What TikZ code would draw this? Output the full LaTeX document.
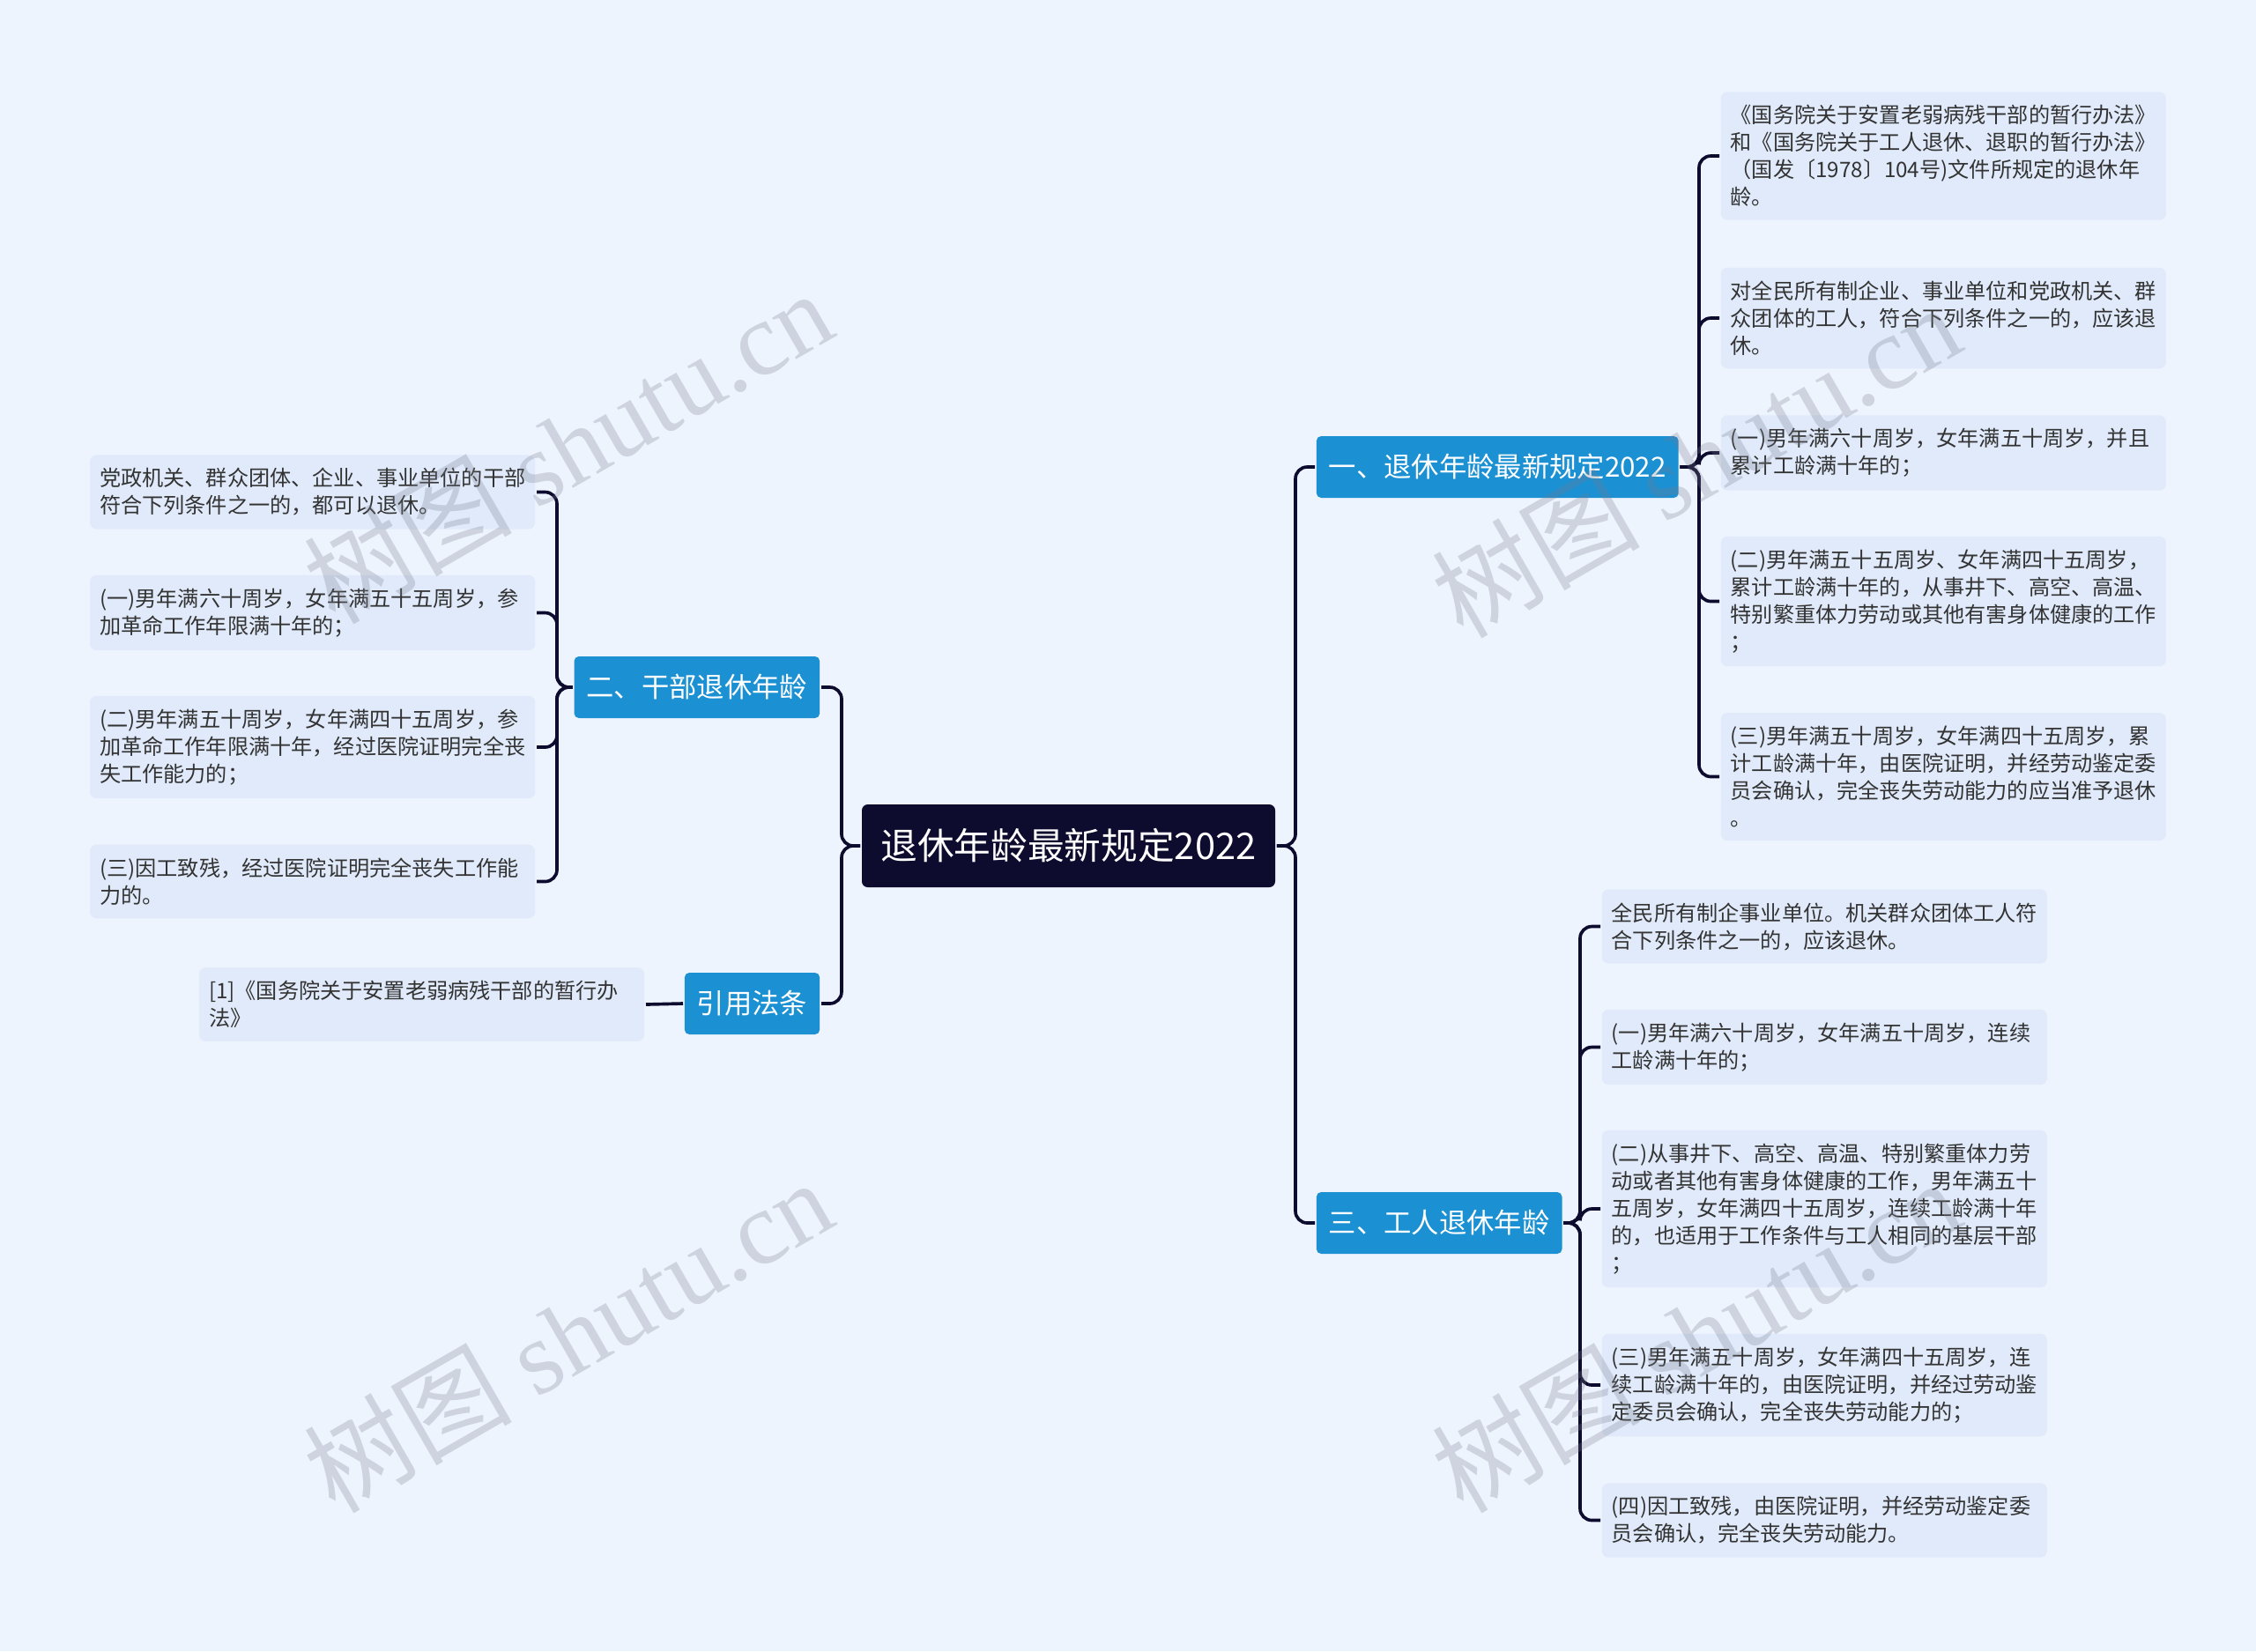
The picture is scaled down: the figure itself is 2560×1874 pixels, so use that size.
\documentclass[tikz,border=0pt]{standalone}
\usepackage{fontspec}
\setmainfont{Noto Sans CJK SC}
\newfontfamily\wmlatin{Liberation Serif}

\definecolor{bgc}{RGB}{238,244,254}
\definecolor{rootc}{RGB}{13,11,46}
\definecolor{topicc}{RGB}{27,144,210}
\definecolor{leafc}{RGB}{224,234,250}
\definecolor{leaftext}{RGB}{51,51,51}
\definecolor{linkc}{RGB}{13,11,46}
\definecolor{wmc}{RGB}{120,125,140}

\tikzset{every picture/.style={line width=1.1pt}}
\tikzset{
  rootbox/.style={fill=rootc, text=white, rounded corners=2pt, minimum width=140.7pt, minimum height=28.2pt, font=\fontsize{12.5}{15}\selectfont},
  topic/.style={fill=topicc, text=white, rounded corners=1.6pt, minimum height=21pt, inner xsep=4.2pt, font=\fontsize{9.4}{11}\selectfont},
  leafbox/.style={fill=leafc, text=leaftext, rounded corners=2.2pt, align=left, text width=145pt, inner xsep=3.25pt, inner ysep=4.5pt, font=\fontsize{7.25}{9.3}\selectfont},
  link/.style={draw=linkc, line width=1.1pt, rounded corners=4pt},
  wmtext/.style={text=wmc, text opacity=0.27, rotate=30, font=\fontsize{35.5}{40}\selectfont}
}

\begin{document}
\begin{tikzpicture}[x=0.3pt,y=0.3pt,yscale=-1,xscale=1]
%set diagram to the full sheet
\useasboundingbox [fill=bgc] (0,0) rectangle (2560,1874);

% Root
\node [rootbox] (root) at (1212.5,960) {退休年龄最新规定2022};

% Main topics
\node [topic, anchor=west] (b1) at (1492,530) {一、退休年龄最新规定2022};
\node [topic, anchor=west] (b3) at (1492,1388) {三、工人退休年龄};
\node [topic, anchor=east] (b2) at (932,780) {二、干部退休年龄};
\node [topic, anchor=east] (b4) at (932,1139) {引用法条};

% Leaves of b1
\node [leafbox, anchor=west] (l1) at (1951,177) {《国务院关于安置老弱病残干部的暂行办法》\\和《国务院关于工人退休、退职的暂行办法》\\（国发〔1978〕104号)文件所规定的退休年\\龄。};
\node [leafbox, anchor=west] (l2) at (1951,361) {对全民所有制企业、事业单位和党政机关、群\\众团体的工人，符合下列条件之一的，应该退\\休。};
\node [leafbox, anchor=west] (l3) at (1951,514) {(一)男年满六十周岁，女年满五十周岁，并且\\累计工龄满十年的；};
\node [leafbox, anchor=west] (l4) at (1951,682.5) {(二)男年满五十五周岁、女年满四十五周岁，\\累计工龄满十年的，从事井下、高空、高温、\\特别繁重体力劳动或其他有害身体健康的工作\\；};
\node [leafbox, anchor=west] (l5) at (1951,881.5) {(三)男年满五十周岁，女年满四十五周岁，累\\计工龄满十年，由医院证明，并经劳动鉴定委\\员会确认，完全丧失劳动能力的应当准予退休\\。};

% Leaves of b3
\node [leafbox, anchor=west] (m1) at (1816,1051.5) {全民所有制企事业单位。机关群众团体工人符\\合下列条件之一的，应该退休。};
\node [leafbox, anchor=west] (m2) at (1816,1188.5) {(一)男年满六十周岁，女年满五十周岁，连续\\工龄满十年的；};
\node [leafbox, anchor=west] (m3) at (1816,1372) {(二)从事井下、高空、高温、特别繁重体力劳\\动或者其他有害身体健康的工作，男年满五十\\五周岁，女年满四十五周岁，连续工龄满十年\\的，也适用于工作条件与工人相同的基层干部\\；};
\node [leafbox, anchor=west] (m4) at (1816,1572) {(三)男年满五十周岁，女年满四十五周岁，连\\续工龄满十年的，由医院证明，并经过劳动鉴\\定委员会确认，完全丧失劳动能力的；};
\node [leafbox, anchor=west] (m5) at (1816,1725.5) {(四)因工致残，由医院证明，并经劳动鉴定委\\员会确认，完全丧失劳动能力。};

% Leaves of b2
\node [leafbox, anchor=east] (k1) at (609,558.5) {党政机关、群众团体、企业、事业单位的干部\\符合下列条件之一的，都可以退休。};
\node [leafbox, anchor=east] (k2) at (609,695.5) {(一)男年满六十周岁，女年满五十五周岁，参\\加革命工作年限满十年的；};
\node [leafbox, anchor=east] (k3) at (609,848) {(二)男年满五十周岁，女年满四十五周岁，参\\加革命工作年限满十年，经过医院证明完全丧\\失工作能力的；};
\node [leafbox, anchor=east] (k4) at (609,1000.5) {(三)因工致残，经过医院证明完全丧失工作能\\力的。};

% Leaf of b4
\node [leafbox, anchor=east] (r1) at (733,1140) {[1]《国务院关于安置老弱病残干部的暂行办\\法》};

% Trunks
\coordinate (tr) at (1470,0);
\coordinate (tl) at (955,0);
\coordinate (t1) at (1928,0);
\coordinate (t3) at (1793,0);
\coordinate (t2) at (632,0);

% Connectors
\draw [link] (root.east) -- (root.east -| tr) |- (b1.west);
\draw [link] (root.east) -- (root.east -| tr) |- (b3.west);
\draw [link] (root.west) -- (root.west -| tl) |- (b2.east);
\draw [link] (root.west) -- (root.west -| tl) |- (b4.east);
\foreach \n in {l1,l2,l3,l4,l5}
  \draw [link] (b1.east) -- (b1.east -| t1) |- (\n.west);
\foreach \n in {m1,m2,m3,m4,m5}
  \draw [link] (b3.east) -- (b3.east -| t3) |- (\n.west);
\foreach \n in {k1,k2,k3,k4}
  \draw [link] (b2.west) -- (b2.west -| t2) |- (\n.east);
\draw [link] (b4.west) -- (r1.east);

% Watermarks
\node [wmtext] (w1) at (644,506) {树图 {\wmlatin shutu.cn}};
\node [wmtext] (w2) at (644,1515) {树图 {\wmlatin shutu.cn}};
\node [wmtext] (w3) at (1924,522) {树图 {\wmlatin shutu.cn}};
\node [wmtext] (w4) at (1924,1515) {树图 {\wmlatin shutu.cn}};

\end{tikzpicture}
\end{document}
